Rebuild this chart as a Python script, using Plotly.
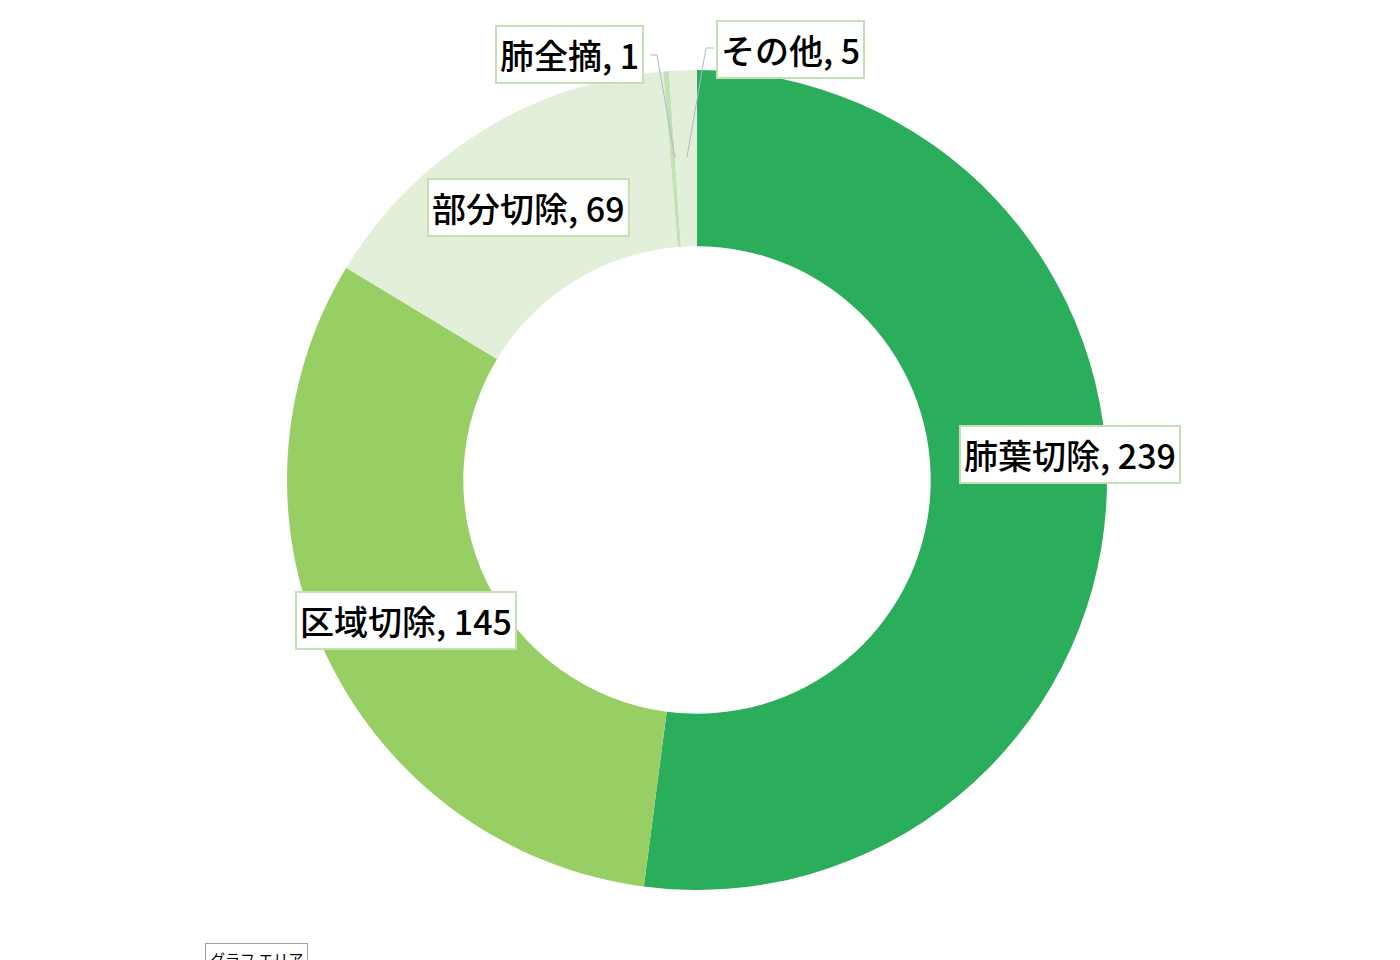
import plotly.graph_objects as go

# 手術術式の内訳
labels = ["肺葉切除", "区域切除", "部分切除", "肺全摘", "その他"]
values = [239, 145, 69, 1, 5]
colors = ["#2BAE5B", "#98CF65", "#E2F0DA", "#C5E0B4", "#E2F0DA"]

W, H = 1400, 960
OFF = 8  # page body margin
font_jp = "Noto Sans CJK JP"

def px(x):
    return (x - OFF) / W

def py(y):
    return 1 - (y - OFF) / H

fig = go.Figure()
fig.add_trace(go.Pie(
    labels=labels, values=values, sort=False, direction="clockwise", rotation=0,
    hole=0.57, marker=dict(colors=colors, line=dict(width=0)),
    textinfo="none", hoverinfo="label+value",
    domain=dict(x=[px(287), px(1107)], y=[py(890), py(70)]),
    showlegend=False,
))

# label boxes (centre position in pixels)
label_pos = [(1070, 455), (406, 620), (528, 207), (569, 55), (790, 49)]
for name, val, (cx, cy) in zip(labels, values, label_pos):
    fig.add_annotation(
        x=px(cx), y=py(cy), xref="paper", yref="paper",
        xanchor="center", yanchor="middle",
        text=f"{name}, {val}", showarrow=False,
        font=dict(family=font_jp, size=34, color="#000000", weight=500),
        bgcolor="#FFFFFF", bordercolor="#C5E0B4", borderwidth=2, borderpad=3,
    )

# leader lines for the small slices
leader = "#AEB8C8"
fig.add_shape(type="path", xref="paper", yref="paper",
              path=f"M {px(650)},{py(55)} L {px(657)},{py(55)} L {px(675)},{py(158)}",
              line=dict(color=leader, width=1))
fig.add_shape(type="path", xref="paper", yref="paper",
              path=f"M {px(714)},{py(48)} L {px(706)},{py(48)} L {px(687)},{py(157)}",
              line=dict(color=leader, width=1))

# chart-area tooltip cut off at the bottom
fig.add_annotation(
    x=px(205), y=py(943), xref="paper", yref="paper", xanchor="left", yanchor="top",
    text="グラフ エリア", showarrow=False,
    font=dict(family=font_jp, size=15, color="#000000"),
    bgcolor="#FFFFFF", bordercolor="#A0A0A0", borderwidth=1, borderpad=4,
)

fig.update_layout(
    width=W, height=H, margin=dict(l=0, r=0, t=0, b=0),
    paper_bgcolor="#FFFFFF", plot_bgcolor="#FFFFFF",
)

fig.write_html("out.html")
